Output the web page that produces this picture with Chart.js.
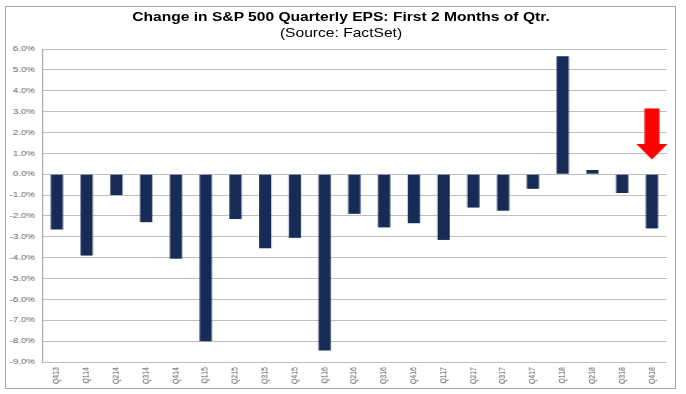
<!DOCTYPE html>
<html>
<head>
<meta charset="utf-8">
<script src="https://cdn.jsdelivr.net/npm/chart.js@4/dist/chart.umd.min.js"></script>
<style>
  html, body { margin: 0; padding: 0; background: #fff; }
  #wrap { position: relative; width: 686px; height: 394px; overflow: hidden; }
  #frame { position: absolute; left: 5px; top: 6px; width: 671px; height: 383px; border: 1px solid #A6A6A6; box-sizing: border-box; pointer-events: none; }
  .t { position: absolute; left: 0; width: 682px; text-align: center; font-family: "Liberation Sans", Arial, sans-serif; color: #000; transform: scaleX(1.2); transform-origin: 341px 0; }
  #title { top: 9px; line-height: 16px; font-size: 13px; font-weight: bold; }
  #sub { top: 25px; line-height: 16px; font-size: 13px; }
  #c { position: absolute; left: 0; top: 0; transform: scaleX(1.1993); transform-origin: 0 0; }
</style>
</head>
<body>
<div id="wrap">
  <canvas id="c" width="572" height="394"></canvas>
  <div id="frame"></div>
  <div class="t" id="title">Change in S&amp;P 500 Quarterly EPS: First 2 Months of Qtr.</div>
  <div class="t" id="sub">(Source: FactSet)</div>
</div>
<script>
const categories = ["Q413","Q114","Q214","Q314","Q414","Q115","Q215","Q315","Q415","Q116","Q216","Q316","Q416","Q117","Q217","Q317","Q417","Q118","Q218","Q318","Q418"];
const epsChange = [-2.65,-3.9,-1.0,-2.3,-4.05,-8.0,-2.15,-3.55,-3.05,-8.45,-1.9,-2.55,-2.35,-3.15,-1.6,-1.75,-0.7,5.65,0.2,-0.9,-2.6];
const yMin = -9, yMax = 6, yStep = 1;
// arrow annotation in data units
const arrowCategory = "Q418";
const arrowTop = 3.15, arrowHeadBase = 1.45, arrowTip = 0.7;

const arrowPlugin = {
  id: 'arrow',
  afterDatasetsDraw(chart) {
    const x = chart.scales.x.getPixelForValue(categories.indexOf(arrowCategory));
    const ys = chart.scales.y;
    const yT = ys.getPixelForValue(arrowTop), yB = ys.getPixelForValue(arrowHeadBase), yTip = ys.getPixelForValue(arrowTip);
    const ctx = chart.ctx;
    ctx.save();
    ctx.fillStyle = '#FF0000';
    ctx.beginPath();
    ctx.moveTo(x - 6.25, yT);
    ctx.lineTo(x + 6.25, yT);
    ctx.lineTo(x + 6.25, yB);
    ctx.lineTo(x + 13, yB);
    ctx.lineTo(x, yTip);
    ctx.lineTo(x - 13, yB);
    ctx.lineTo(x - 6.25, yB);
    ctx.closePath();
    ctx.fill();
    ctx.restore();
  }
};

new Chart(document.getElementById('c'), {
  type: 'bar',
  data: {
    labels: categories,
    datasets: [{ data: epsChange, backgroundColor: '#172B57', borderWidth: 0, categoryPercentage: 1.0, barPercentage: 0.41 }]
  },
  options: {
    responsive: false,
    animation: false,
    events: [],
    layout: { padding: { top: 49, right: 16, left: 0, bottom: 0 } },
    plugins: { legend: { display: false }, title: { display: false }, tooltip: { enabled: false } },
    scales: {
      x: {
        afterFit(s) { s.height = 32; },
        grid: { display: false, drawTicks: false },
        border: { display: false },
        ticks: { minRotation: 90, maxRotation: 90, autoSkip: false, padding: 5, color: '#595959', font: { family: 'Liberation Sans', size: 7 } }
      },
      y: {
        min: yMin, max: yMax,
        afterFit(s) { s.width = 35; },
        grid: { color: '#BFBFBF', lineWidth: 1, drawTicks: false },
        border: { display: true, color: '#A6A6A6' },
        ticks: { stepSize: yStep, padding: 6, color: '#595959', font: { family: 'Liberation Sans', size: 8 }, callback: v => v.toFixed(1) + '%' }
      }
    }
  },
  plugins: [arrowPlugin]
});
</script>
</body>
</html>
